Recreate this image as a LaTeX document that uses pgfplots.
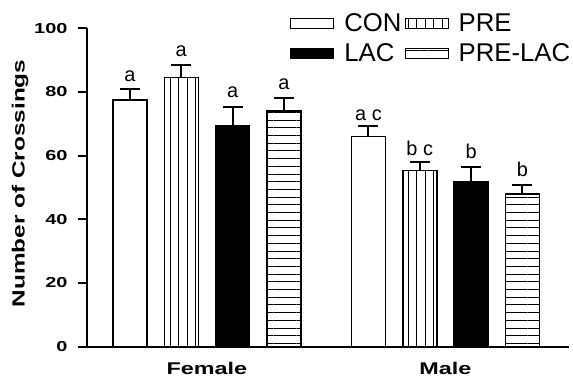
\documentclass[border=0pt]{standalone}
\usepackage{fontspec}
\setmainfont{Liberation Sans}
\newfontfamily\wideb{Liberation Sans}[FakeStretch=1.38]
\usepackage{pgfplots}
\pgfplotsset{compat=1.18}
\usetikzlibrary{patterns.meta}
\begin{document}
\begin{tikzpicture}
\begin{axis}[
  at={(87bp,-346.7bp)}, anchor=south west,
  scale only axis, width=482bp, height=318.4bp,
  xmin=0.162, xmax=9.56, ymin=0, ymax=100,
  axis x line=bottom, axis y line=left,
  axis line style={-, line width=2bp},
  ytick={0,20,...,100},
  xtick={2.5,7.15}, xticklabels={Female,Male},
  x tick style={draw=none},
  y tick style={line width=2bp, black},
  tick align=outside, major tick length=9bp,
  /pgf/number format/assume math mode=true,
  yticklabel style={font=\wideb\bfseries\fontsize{14.5}{16}\selectfont, xshift=-7bp},
  xticklabel style={font=\wideb\bfseries\fontsize{17}{20}\selectfont, anchor=base, yshift=-19bp},
  ylabel={Number of Crossings},
  ylabel style={font=\wideb\bfseries\fontsize{17.7}{20}\selectfont, at={(axis description cs:-0.139,0.513)}, anchor=center},
  ybar, bar width=34bp, bar shift=0pt,
  every axis plot/.append style={draw=black, line width=1.5bp},
  error bars/y dir=plus, error bars/y explicit,
  error bars/error mark=|,
  error bars/error bar style={line width=2bp, black},
  error bars/error mark options={line width=2bp, mark size=10bp, black},
  legend columns=2,
  legend cell align=left,
  legend style={draw=none, fill=none, at={(axis description cs:0.415,1.06)}, anchor=north west,
    font=\fontsize{25.8}{29}\selectfont, column sep=1bp, row sep=7bp,
    nodes={inner sep=2bp},
    /tikz/every odd column/.style={column sep=8bp}},
  legend image code/.code={\draw[#1, line width=1.2bp] (0bp,-5bp) rectangle (43bp,5bp);},
]
\addplot[fill=white] coordinates {(1,77.5) +- (0,3.3) (5.65,66.0) +- (0,3.3)};
\addlegendentry{CON}
\addplot[pattern={Lines[angle=90,distance=8.5bp,line width=1bp]}] coordinates {(2,84.5) +- (0,4.0) (6.65,55.4) +- (0,2.7)};
\addlegendentry{PRE}
\addplot[fill=black] coordinates {(3,69.4) +- (0,5.8) (7.65,51.8) +- (0,4.7)};
\addlegendentry{LAC}
\addplot[pattern={Lines[angle=0,distance=7.7bp,line width=1bp]}] coordinates {(4,74.0) +- (0,4.0) (8.65,47.9) +- (0,2.9)};
\addlegendentry{PRE-LAC}
\begin{scope}[every node/.style={font=\fontsize{20}{22}\selectfont, anchor=base, inner sep=0pt}]
\node at (axis cs:1,83.2) {a};
\node at (axis cs:2,91.1) {a};
\node at (axis cs:3,78.2) {a};
\node at (axis cs:4,80.8) {a};
\node at (axis cs:5.65,71.2) {a c};
\node at (axis cs:6.65,60.2) {b c};
\node at (axis cs:7.65,59.2) {b};
\node at (axis cs:8.65,53.4) {b};
\end{scope}
\end{axis}
\pgfresetboundingbox
\path (0,0) rectangle (573bp,-382bp);
\end{tikzpicture}
\end{document}
